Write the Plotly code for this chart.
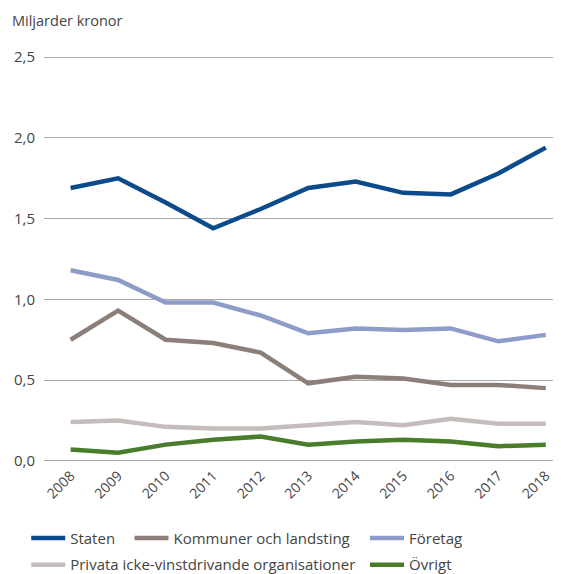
import plotly.graph_objects as go

years = [2008, 2009, 2010, 2011, 2012, 2013, 2014, 2015, 2016, 2017, 2018]
staten = [1.69, 1.75, 1.60, 1.44, 1.56, 1.69, 1.73, 1.66, 1.65, 1.78, 1.94]
kommuner = [0.75, 0.93, 0.75, 0.73, 0.67, 0.48, 0.52, 0.51, 0.47, 0.47, 0.45]
foretag = [1.18, 1.12, 0.98, 0.98, 0.90, 0.79, 0.82, 0.81, 0.82, 0.74, 0.78]
privata = [0.24, 0.25, 0.21, 0.20, 0.20, 0.22, 0.24, 0.22, 0.26, 0.23, 0.23]
ovrigt = [0.07, 0.05, 0.10, 0.13, 0.15, 0.10, 0.12, 0.13, 0.12, 0.09, 0.10]
y_ticks = [0.0, 0.5, 1.0, 1.5, 2.0, 2.5]

series = [
    ("Staten", staten, "#0b4a8b"),
    ("Kommuner och landsting", kommuner, "#8c7f7a"),
    ("Företag", foretag, "#8e9cc9"),
    ("Privata icke-vinstdrivande organisationer", privata, "#c5bdbb"),
    ("Övrigt", ovrigt, "#4a7d2b"),
]
# one legend per entry so each entry can be placed like the reference
legend_pos = [(-0.0344, -0.1407), (0.1654, -0.1407), (0.6209, -0.1407),
              (-0.0344, -0.2058), (0.6209, -0.2058)]

font_col = "#444444"
FONT = "Open Sans, sans-serif"

fig = go.Figure()
legend_layout = {}
for i, (name, vals, col) in enumerate(series):
    key = "legend" if i == 0 else f"legend{i + 1}"
    fig.add_trace(go.Scatter(x=years, y=vals, name=name, mode="lines", legend=key,
                             line=dict(color=col, width=4.5)))
    lx, ly = legend_pos[i]
    legend_layout[key] = dict(orientation="h", xanchor="left", yanchor="top", x=lx, y=ly,
                              font=dict(family=FONT, size=15, color=font_col),
                              itemwidth=34, bgcolor="rgba(0,0,0,0)")

# page body has an 8px margin, so the figure is sized 553x566
fig.update_layout(
    width=553, height=566,
    margin=dict(l=36, r=0, t=46, b=110, autoexpand=False),
    plot_bgcolor="white", paper_bgcolor="white",
    font=dict(family=FONT, size=15, color=font_col),
    separators=",.",
    showlegend=True,
    annotations=[dict(text="Miljarder kronor", xref="paper", yref="paper",
                      x=-0.0658, y=1.0, xanchor="left", yanchor="middle",
                      yshift=34, showarrow=False, font=dict(family=FONT, size=14.5, color=font_col))],
    **legend_layout,
)
fig.update_xaxes(range=[2007.44, 2018.32], tickmode="array", tickvals=years,
                 ticktext=[str(y) for y in years], tickangle=-45,
                 showgrid=False, zeroline=False, showline=False,
                 tickfont=dict(family=FONT, size=14, color=font_col))
fig.update_yaxes(range=[-0.02, 2.52], tickmode="array", tickvals=y_ticks,
                 tickformat=".1f", showgrid=True, gridcolor="#a8a8a8", gridwidth=1.3,
                 zeroline=False, showline=False, ticklabelstandoff=8,
                 tickfont=dict(family=FONT, size=15, color=font_col))

fig.write_html("out.html")
